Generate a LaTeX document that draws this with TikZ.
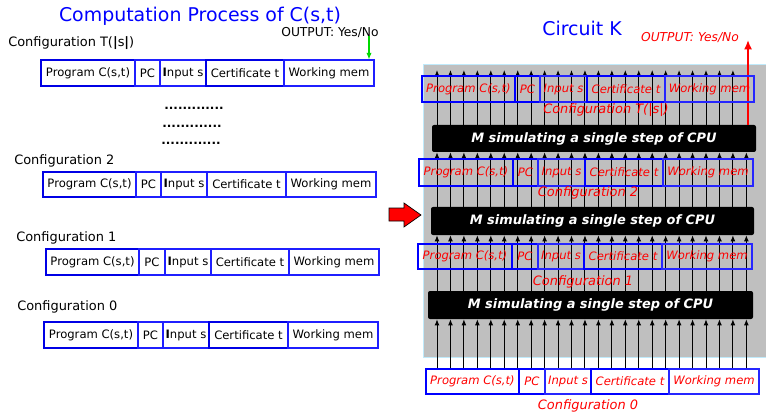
\documentclass[tikz,border=0pt]{standalone}
\usepackage{fontspec}
\setmainfont{DejaVu Sans}
\usetikzlibrary{arrows.meta}

% one cell of a configuration row: name, x1, x2, y1, y2, style, text
\newcommand\cfgcell[7]{%
  \node[#6, minimum width={(#3-#2)*0.75pt}, minimum height={(#5-#4)*0.75pt}]
    (#1) at ({(#2+#3)/2},{(#4+#5)/2}) {#7};}

\begin{document}
\begin{tikzpicture}[x=0.75pt,y=-0.75pt,
  cellthick/.style={draw=blue!90!black, line width=1.2pt, inner sep=0pt,
    font=\fontsize{8.7}{10}\selectfont, text=black},
  cellthin/.style={draw=blue!88, line width=0.8pt, inner sep=0pt,
    font=\fontsize{8.7}{10}\selectfont, text=black},
  rcellthick/.style={draw=blue, line width=1.1pt, inner sep=0pt,
    font=\fontsize{8.7}{10}\selectfont\itshape, text=red},
  rcellthin/.style={draw=blue!85, line width=0.85pt, inner sep=0pt,
    font=\fontsize{8.7}{10}\selectfont\itshape, text=red},
  rcellwhite/.style={rcellthick, fill=white},
  rcellwhitethin/.style={rcellthin, fill=white},
  heading/.style={text=blue, font=\fontsize{14.2}{16}\selectfont, inner sep=0pt},
  cfglabel/.style={anchor=west, inner sep=0pt, font=\fontsize{9.7}{11}\selectfont},
  rcfglabel/.style={inner sep=0pt, text=red, font=\fontsize{9.7}{11}\selectfont\itshape},
  cpu/.style={fill=black, rounded corners=1.5pt, inner sep=0pt, text=white,
    font=\fontsize{9.7}{11}\selectfont\bfseries\itshape},
  wire/.style={black, line width=0.7pt, -{Latex[length=4.5pt,width=3.6pt]}},
  dotrow/.style={inner sep=0pt, font=\fontsize{9}{10}\selectfont\bfseries}
]
\useasboundingbox (0,0) rectangle (766,413);

% ---------------- left: computation process ----------------
\node[heading] (titleL) at (200,16) {Computation Process of C(s,t)};

\node[cfglabel] (labT) at (8,43) {Configuration T(\textbf{|}s\textbf{|})};
\node[inner sep=0pt, font=\fontsize{9.2}{10}\selectfont] (outL) at (330,33) {OUTPUT: Yes/No};

\cfgcell{lT-prog}{41}{135}{60}{86}{cellthick}{Program C(s,t)}
\cfgcell{lT-pc}{135}{160}{60}{86}{cellthin}{PC}
\cfgcell{lT-in}{160}{206}{60}{86}{cellthin}{\textbf{I}nput s}
\cfgcell{lT-cert}{206}{284}{60}{86}{cellthick}{Certificate t}
\cfgcell{lT-mem}{284}{374}{60}{86}{cellthin}{Working mem}

\coordinate (gstart) at (369,36);
\draw[green!85!black, line width=0.8pt, -{Latex[length=5pt,width=4pt]}]
  (gstart) -- (gstart |- lT-mem.north);

\node[dotrow] (dots1) at (194,108) {.............};
\node[dotrow] (dots2) at (192,126) {.............};
\node[dotrow] (dots3) at (191,143) {.............};

\node[cfglabel] (lab2) at (14,161) {Configuration 2};
\cfgcell{l2-prog}{43}{136}{172}{197}{cellthick}{Program C(s,t)}
\cfgcell{l2-pc}{136}{161}{172}{197}{cellthin}{PC}
\cfgcell{l2-in}{161}{207}{172}{197}{cellthin}{\textbf{I}nput s}
\cfgcell{l2-cert}{207}{286}{172}{197}{cellthin}{Certificate t}
\cfgcell{l2-mem}{286}{376}{172}{197}{cellthin}{Working mem}

\node[cfglabel] (lab1) at (16,238) {Configuration 1};
\cfgcell{l1-prog}{46}{139}{249}{275}{cellthick}{Program C(s,t)}
\cfgcell{l1-pc}{139}{165}{249}{275}{cellthin}{PC}
\cfgcell{l1-in}{165}{211}{249}{275}{cellthin}{\textbf{I}nput s}
\cfgcell{l1-cert}{211}{289}{249}{275}{cellthin}{Certificate t}
\cfgcell{l1-mem}{289}{379}{249}{275}{cellthin}{Working mem}

\node[cfglabel] (lab0) at (17,307) {Configuration 0};
\cfgcell{l0-prog}{44}{138}{322}{348}{cellthick}{Program C(s,t)}
\cfgcell{l0-pc}{138}{163}{322}{348}{cellthin}{PC}
\cfgcell{l0-in}{163}{209}{322}{348}{cellthin}{\textbf{I}nput s}
\cfgcell{l0-cert}{209}{288}{322}{348}{cellthick}{Certificate t}
\cfgcell{l0-mem}{288}{378}{322}{348}{cellthin}{Working mem}

% red block arrow between the two halves
\draw[fill=red, line width=0.5pt, line join=miter]
  (389,208) -- (404,208) -- (404,203) -- (421,215) -- (404,227) -- (404,221) -- (389,221) -- cycle;

% ---------------- right: circuit K ----------------
\fill[gray!50] (423,64) rectangle (766,357);
\draw[cyan!25, line width=0.6pt] (766,64) -- (423,64) -- (423,357) -- (766,357);

\node[heading] (titleR) at (582,28) {Circuit K};
\node[inner sep=0pt, text=red, font=\fontsize{9.2}{10}\selectfont\itshape] (outR) at (690,38) {OUTPUT: Yes/No};

\node[cpu, minimum width={324*0.75pt}, minimum height={27*0.75pt}] (cpuT) at (594,138.5)
  {M simulating a single step of CPU};
\node[cpu, minimum width={323*0.75pt}, minimum height={28*0.75pt}] (cpuM) at (592.5,221)
  {M simulating a single step of CPU};
\node[cpu, minimum width={325*0.75pt}, minimum height={28*0.75pt}] (cpuB) at (590.5,305)
  {M simulating a single step of CPU};

\cfgcell{r0-prog}{426}{519}{369}{394}{rcellwhite}{Program C(s,t)}
\cfgcell{r0-pc}{519}{545}{369}{394}{rcellwhite}{PC}
\cfgcell{r0-in}{545}{591}{369}{394}{rcellwhitethin}{Input s}
\cfgcell{r0-cert}{591}{669}{369}{394}{rcellwhite}{Certificate t}
\cfgcell{r0-mem}{669}{759}{369}{394}{rcellwhitethin}{Working mem}
\node[rcfglabel] (rlab0) at (588,406) {Configuration 0};

% wires between consecutive stages
\coordinate (topend) at (0,70);
\foreach \i in {0,...,23}{
  \pgfmathsetmacro\ax{437+13.45*\i}
  \draw[wire] (\ax,0 |- r0-prog.north) -- (\ax,0 |- cpuB.south);
  \draw[wire] (\ax,0 |- cpuB.north) -- (\ax,0 |- cpuM.south);
  \draw[wire] (\ax,0 |- cpuM.north) -- (\ax,0 |- cpuT.south);
}
\foreach \i in {0,...,22}{
  \pgfmathsetmacro\ax{437+13.45*\i}
  \draw[wire] (\ax,0 |- cpuT.north) -- (\ax,0 |- topend);
}
\coordinate (outtip) at (748,40);
\draw[red, line width=1.3pt, -{Latex[length=7pt,width=6pt]}] (outtip |- cpuT.north) -- (outtip);

\cfgcell{r1-prog}{418}{512}{244}{269}{rcellthick}{Program C(s,t)}
\cfgcell{r1-pc}{512}{538}{244}{269}{rcellthick}{PC}
\cfgcell{r1-in}{538}{584}{244}{269}{rcellthin}{Input s}
\cfgcell{r1-cert}{584}{662}{244}{269}{rcellthick}{Certificate t}
\cfgcell{r1-mem}{662}{752}{244}{269}{rcellthin}{Working mem}
\node[rcfglabel] (rlab1) at (583,282) {Configuration 1};

\cfgcell{r2-prog}{419}{513}{159}{186}{rcellthick}{Program C(s,t)}
\cfgcell{r2-pc}{513}{538}{159}{186}{rcellthick}{PC}
\cfgcell{r2-in}{538}{585}{159}{186}{rcellthin}{Input s}
\cfgcell{r2-cert}{585}{663}{159}{186}{rcellthick}{Certificate t}
\cfgcell{r2-mem}{663}{753}{159}{186}{rcellthin}{Working mem}
\node[rcfglabel] (rlab2) at (588,193) {Configuration 2};

\cfgcell{rT-prog}{422}{515}{76}{102}{rcellthick}{Program C(s,t)}
\cfgcell{rT-pc}{515}{540}{76}{102}{rcellthick}{PC}
\cfgcell{rT-in}{540}{587}{76}{102}{rcellthin}{Input s}
\cfgcell{rT-cert}{587}{665}{76}{102}{rcellthick}{Certificate t}
\cfgcell{rT-mem}{665}{754}{76}{102}{rcellthin}{Working mem}
\node[rcfglabel] (rlabT) at (606,110) {Configuration T(|s|)};
\end{tikzpicture}
\end{document}
